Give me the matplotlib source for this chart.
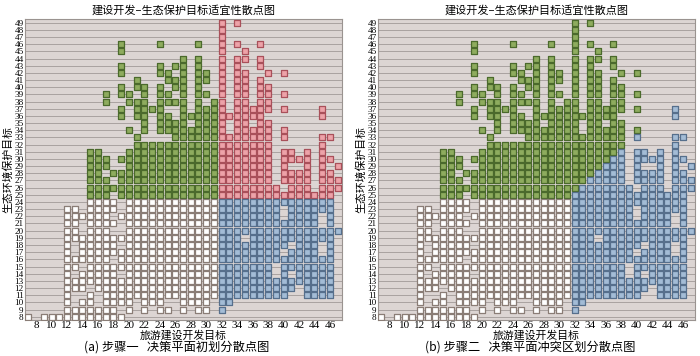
import matplotlib.pyplot as plt

plt.rcParams['font.family'] = ['Noto Sans CJK SC', 'DejaVu Sans']

# x values per row (y)
# upper-left block: ecology side (green in both panels)
upper_left = {
    46: [19, 24, 29],
    45: [19],
    44: [27, 29],
    43: [19, 24, 26, 27, 29],
    42: [19, 24, 25, 27, 29, 30],
    41: [21, 25, 26, 27, 29, 30],
    40: [19, 21, 22, 24, 26, 27, 29],
    39: [17, 19, 20, 22, 24, 25, 27, 29, 30],
    38: [17, 20, 21, 22, 24, 25, 26, 27, 29, 31],
    37: [19, 21, 22, 23, 24, 27, 29, 30, 31],
    36: [19, 21, 22, 24, 25, 27, 28, 29, 30, 31],
    35: [22, 24, 25, 26, 27, 29, 30, 31],
    34: [20, 22, 24, 25, 26, 27, 28, 29, 30, 31],
    33: [21, 26, 27, 28, 29, 30, 31],
    32: [21, 22, 23, 24, 25, 26, 27, 28, 29, 30, 31],
    31: [15, 16, 20, 21, 22, 23, 24, 25, 26, 27, 28, 29, 30, 31],
    30: [15, 16, 17, 19, 20, 21, 22, 23, 24, 25, 26, 27, 28, 29, 30, 31],
    29: [15, 16, 17, 20, 21, 22, 23, 24, 25, 26, 27, 28, 29, 30, 31],
    28: [15, 16, 18, 19, 20, 21, 22, 23, 24, 25, 26, 27, 28, 29, 30, 31],
    27: [15, 16, 17, 19, 20, 21, 22, 23, 24, 25, 26, 27, 28, 29, 30, 31],
    26: [15, 16, 17, 18, 19, 20, 21, 22, 23, 24, 25, 26, 27, 28, 29, 30, 31],
    25: [15, 16, 17, 19, 20, 21, 22, 23, 24, 25, 26, 27, 28, 29, 30, 31],
}

# upper-right block: conflict zone (red in panel a)
upper_right = {
    49: [32, 34],
    48: [32],
    47: [32],
    46: [32, 34, 37],
    45: [32, 35],
    44: [32, 34, 35, 37],
    43: [32, 34, 37],
    42: [32, 34, 35, 38, 40],
    41: [32, 34, 35, 37],
    40: [32, 34, 35, 37, 38],
    39: [32, 34, 35, 37, 38, 40],
    38: [32, 34, 35, 37, 38],
    37: [32, 34, 35, 36, 37, 38, 40, 45],
    36: [32, 33, 34, 35, 36, 37, 45],
    35: [32, 34, 35, 37, 38],
    34: [32, 34, 35, 36, 37, 38, 40],
    33: [32, 33, 34, 35, 36, 37, 38, 40, 45, 46],
    32: [32, 33, 34, 35, 36, 37, 38, 45],
    31: [32, 33, 34, 35, 36, 37, 38, 40, 41, 43, 45],
    30: [32, 33, 34, 35, 36, 37, 38, 40, 41, 42, 43, 45, 46],
    29: [32, 33, 34, 35, 36, 37, 38, 40, 43, 45, 47],
    28: [32, 33, 34, 35, 36, 37, 38, 40, 41, 42, 43, 45, 46],
    27: [32, 33, 34, 35, 36, 37, 38, 40, 41, 42, 43, 45, 46, 47],
    26: [32, 33, 34, 35, 36, 37, 38, 39, 41, 42, 43, 45, 46, 47],
    25: [32, 33, 34, 35, 36, 37, 38, 39, 40, 41, 42, 43, 44, 45, 46],
}

# lower-left block: neither target (white)
lower_left = {
    24: [15, 16, 17, 18, 20, 21, 22, 23, 24, 25, 26, 27, 28, 29, 30, 31],
    23: [12, 13, 15, 16, 17, 18, 20, 21, 22, 23, 24, 25, 26, 27, 28, 29, 30, 31],
    22: [12, 13, 14, 15, 16, 17, 19, 20, 21, 22, 23, 24, 25, 26, 27, 28, 29, 30, 31],
    21: [12, 13, 15, 16, 17, 18, 20, 21, 22, 23, 24, 25, 26, 27, 28, 29, 30, 31],
    20: [12, 13, 15, 16, 17, 20, 21, 22, 23, 24, 25, 26, 27, 28, 29, 30, 31],
    19: [12, 13, 14, 15, 16, 17, 18, 19, 20, 21, 22, 23, 24, 25, 26, 27, 28, 29, 30, 31],
    18: [12, 14, 15, 16, 17, 18, 20, 21, 22, 23, 24, 25, 26, 27, 28, 29, 30, 31],
    17: [12, 14, 15, 16, 17, 18, 19, 20, 21, 22, 23, 24, 25, 26, 27, 28, 29, 30, 31],
    16: [12, 13, 14, 15, 16, 17, 19, 20, 21, 22, 23, 24, 25, 26, 27, 28, 29, 30, 31],
    15: [12, 13, 15, 16, 17, 18, 19, 20, 21, 22, 23, 24, 25, 26, 27, 28, 29, 30, 31],
    14: [12, 14, 15, 16, 17, 18, 20, 21, 22, 23, 24, 25, 26, 27, 28, 29, 30, 31],
    13: [12, 13, 14, 15, 16, 17, 18, 19, 20, 21, 22, 23, 24, 25, 26, 27, 28, 29, 30, 31],
    12: [12, 13, 14, 16, 17, 18, 19, 20, 21, 22, 23, 24, 25, 26, 27, 28, 29, 30, 31],
    11: [12, 15, 17, 18, 19, 20, 21, 22, 23, 24, 25, 26, 27, 28, 29, 30, 31],
    10: [12, 14, 15, 17, 18, 19, 20, 22, 23, 24, 27, 28, 29, 30],
    9: [12, 13, 14, 15, 16, 17, 18, 20, 22, 24, 25, 27, 29, 30],
    8: [7, 9, 10, 11, 12, 13, 14, 15, 16, 17, 18, 19],
}

# lower-right block: development side (blue in both panels)
lower_right = {
    24: [32, 33, 34, 35, 36, 37, 38, 39, 40, 41, 42, 43, 44, 45, 46],
    23: [32, 33, 34, 35, 36, 37, 38, 39, 41, 42, 43, 44, 45, 46],
    22: [32, 33, 34, 35, 36, 37, 38, 39, 41, 42, 43, 44, 46],
    21: [32, 33, 34, 35, 36, 37, 38, 39, 40, 41, 42, 43, 44, 46],
    20: [32, 33, 34, 35, 36, 37, 38, 39, 40, 41, 42, 43, 44, 45, 46, 47],
    19: [32, 33, 34, 36, 37, 38, 39, 40, 41, 42, 43, 44, 45, 46],
    18: [32, 33, 34, 35, 36, 37, 38, 39, 40, 42, 43, 44, 46],
    17: [32, 33, 34, 35, 36, 37, 38, 39, 41, 42, 43, 44, 46],
    16: [32, 33, 34, 35, 36, 37, 38, 39, 40, 41, 42, 43, 44, 45, 46],
    15: [32, 33, 34, 35, 36, 37, 38, 40, 41, 42, 43, 44, 45, 46],
    14: [32, 33, 34, 35, 36, 37, 38, 40, 42, 43, 44, 45, 46],
    13: [32, 33, 34, 35, 36, 37, 38, 39, 40, 41, 42, 43, 44, 45, 46],
    12: [32, 33, 34, 35, 36, 37, 38, 39, 40, 41, 43, 44, 45, 46],
    11: [32, 33, 34, 35, 36, 37, 38, 39, 40, 43, 44, 45, 46],
    10: [32, 33],
    9: [32],
}

# in step two the conflict zone is split along the diagonal x - y = 7
split_offset = 7

y_ticks = list(range(8, 50))
x_ticks = list(range(8, 47, 2))
titles = ['建设开发–生态保护目标适宜性散点图'] * 2
captions = ['(a) 步骤一   决策平面初划分散点图', '(b) 步骤二   决策平面冲突区划分散点图']

GREEN = ('#8eac5e', '#4b6a2c')
RED = ('#eda2a8', '#a9505a')
BLUE = ('#a3bcd6', '#566f8c')
WHITE = ('#ffffff', '#8a7d76')


def points(rows):
    xs, ys = [], []
    for y, row in rows.items():
        xs += row
        ys += [y] * len(row)
    return xs, ys


def draw(ax, xs, ys, colors):
    ax.scatter(xs, ys, marker='s', s=19, facecolor=colors[0], edgecolor=colors[1],
               linewidth=0.9, zorder=3)


fig = plt.figure(figsize=(7.0, 3.56), dpi=100)
ax_a = fig.add_axes([25 / 700, 36 / 356, 317 / 700, 301 / 356])
ax_b = fig.add_axes([378 / 700, 36 / 356, 317 / 700, 301 / 356])

# panel a
draw(ax_a, *points(upper_left), GREEN)
draw(ax_a, *points(upper_right), RED)
draw(ax_a, *points(lower_left), WHITE)
draw(ax_a, *points(lower_right), BLUE)

# panel b
ur_x, ur_y = points(upper_right)
g_x = [x for x, y in zip(ur_x, ur_y) if x - y < split_offset]
g_y = [y for x, y in zip(ur_x, ur_y) if x - y < split_offset]
b_x = [x for x, y in zip(ur_x, ur_y) if x - y >= split_offset]
b_y = [y for x, y in zip(ur_x, ur_y) if x - y >= split_offset]
draw(ax_b, *points(upper_left), GREEN)
draw(ax_b, g_x, g_y, GREEN)
draw(ax_b, b_x, b_y, BLUE)
draw(ax_b, *points(lower_left), WHITE)
draw(ax_b, *points(lower_right), BLUE)

for ax, title, caption in zip([ax_a, ax_b], titles, captions):
    ax.set_facecolor('#dcd5d3')
    ax.set_xlim(6.57, 47.56)
    ax.set_ylim(7.54, 49.52)
    ax.set_yticks(y_ticks)
    ax.set_xticks(x_ticks)
    ax.set_yticklabels(y_ticks, fontsize=6.6, family='Liberation Serif')
    ax.set_xticklabels(x_ticks, fontsize=8, family='Liberation Serif')
    ax.tick_params(length=0, pad=1)
    ax.yaxis.grid(True, color='#a9a2a0', linewidth=0.7)
    ax.set_axisbelow(True)
    for sp in ax.spines.values():
        sp.set_color('#9a9390')
        sp.set_linewidth(0.8)
    ax.set_title(title, fontsize=8, pad=4)
    ax.set_xlabel('旅游建设开发目标', fontsize=7.8, labelpad=0)
    ax.set_ylabel('生态环境保护目标', fontsize=7.8, labelpad=1)
    ax.text(0.48, -0.09, caption, transform=ax.transAxes, ha='center', va='center',
            fontsize=8.8)

fig.savefig('out.png', dpi=100)
